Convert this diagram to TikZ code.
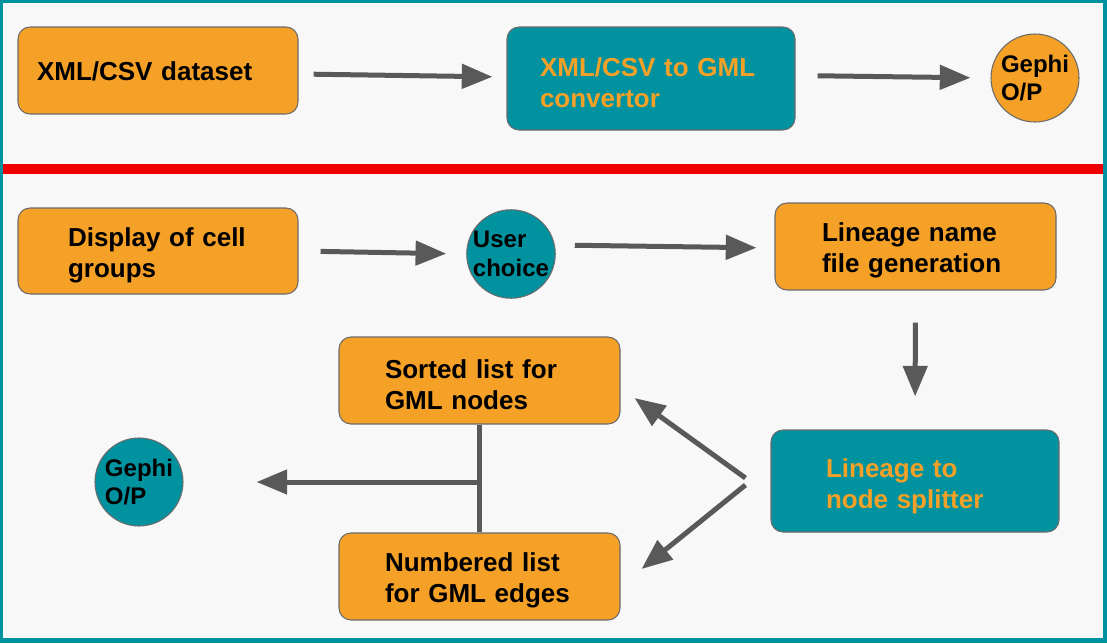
\documentclass[tikz,border=0pt]{standalone}
\usepackage{fontspec}
\setmainfont{Liberation Sans}
\usetikzlibrary{arrows.meta}
\definecolor{boxorange}{HTML}{F5A027}
\definecolor{boxteal}{HTML}{00929F}
\definecolor{arrowgray}{HTML}{595959}
\definecolor{edgegray}{HTML}{6B6B6B}
\definecolor{paper}{HTML}{F8F8F8}
\definecolor{barred}{HTML}{EE0000}
\tikzset{
  box/.style={draw=edgegray, line width=0.8pt, rounded corners=9pt, align=left,
    inner ysep=0pt, text height=20.5pt, font=\fontsize{19.5}{23.25}\selectfont\bfseries},
  orangebox/.style={box, fill=boxorange, text=black},
  tealbox/.style={box, fill=boxteal, text=boxorange},
  circ/.style={circle, draw=edgegray, line width=0.8pt, minimum size=66pt,
    inner sep=0pt, align=left, text=black, font=\fontsize{18}{21.5}\selectfont\bfseries},
  arr/.style={draw=arrowgray, line width=3.75pt, -{Triangle[length=23pt,width=18pt]}},
  link/.style={draw=arrowgray, line width=3.75pt}
}

\begin{document}
\begin{tikzpicture}[x=0.75pt, y=-0.75pt]
    \useasboundingbox (0,0) rectangle (1107,643);
    % frame and divider
    \fill[boxteal] (0,0) rectangle (1107,643);
    \fill[paper] (3,3) rectangle (1103,638);
    \fill[barred] (3,164) rectangle (1103,174);

    % upper row
    \node (dataset) at (158,70.5) [orangebox, minimum width=210pt, minimum height=65.25pt,
        inner xsep=14.25pt, text width=181.5pt, text height=16pt] {XML/CSV dataset};
    \node (conv) at (651,78.5) [tealbox, minimum width=216pt, minimum height=77.25pt,
        inner xsep=24.75pt, text width=166.5pt] {XML/CSV to GML\\convertor};
    \node (gephiA) at (1035,78) [circ, fill=boxorange] {Gephi\\O/P};
    \draw[arr, shorten <=11.25pt, shorten >=10.5pt] ([shift={(0,3.5)}]dataset.east) -- ([shift={(0,-1.5)}]conv.west);
    \draw[arr, shorten <=16.5pt, shorten >=15pt] ([shift={(0,-3)}]conv.east) -- (gephiA.west);

    % lower part
    \node (display) at (158,251) [orangebox, minimum width=210pt, minimum height=64.5pt,
        inner xsep=37.5pt, text width=135pt] {Display of cell\\groups};
    \node (user) at (511,254) [circ, fill=boxteal] {User\\choice};
    \node (lineage) at (915.5,246.5) [orangebox, minimum width=210.75pt, minimum height=65.25pt,
        inner xsep=35.25pt, text width=140.25pt] {Lineage name\\file generation};
    \node (split) at (915,481) [tealbox, minimum width=216pt, minimum height=76.5pt,
        inner xsep=41.25pt, text width=133.5pt, text height=21.5pt] {Lineage to\\node splitter};
    \node (sorted) at (479.5,380.5) [orangebox, minimum width=210.75pt, minimum height=65.25pt,
        inner xsep=34.5pt, text width=141.75pt] {Sorted list for\\GML nodes};
    \node (numbered) at (479.5,576.5) [orangebox, minimum width=210.75pt, minimum height=65.25pt,
        inner xsep=34.5pt, text width=141.75pt] {Numbered list\\for GML edges};
    \node (gephiB) at (139,482) [circ, fill=boxteal] {Gephi\\O/P};

    \draw[arr, shorten <=16.5pt, shorten >=15pt] (display.east) -- (user.west);
    \draw[arr, shorten <=14.25pt, shorten >=13.5pt] ([shift={(0,-9)}]user.east) -- ([shift={(0,1.5)}]lineage.west);
    \draw[arr, shorten <=24pt, shorten >=24.75pt] (lineage.south) -- (split.north);

    \coordinate (fork) at ([xshift=-18.75pt]split.west);
    \draw[arr] ([shift={(0,-3)}]fork) -- ([shift={(14,17.5)}]sorted.east);
    \draw[arr] ([shift={(0,4)}]fork) -- ([shift={(21,-7.5)}]numbered.east);

    \draw[link] (sorted.south) -- (numbered.north);
    \coordinate (join) at (sorted.south |- gephiB);
    \draw[arr, shorten >=54.75pt] (join) -- (gephiB.east);
\end{tikzpicture}
\end{document}
